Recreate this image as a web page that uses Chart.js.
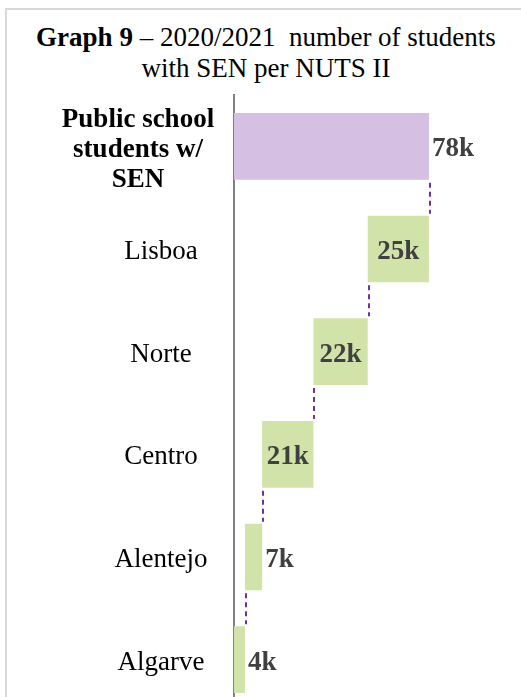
<!DOCTYPE html>
<html>
<head>
<meta charset="utf-8">
<script src="https://cdn.jsdelivr.net/npm/chart.js@4.4.0/dist/chart.umd.min.js"></script>
<style>
html, body { margin: 0; padding: 0; background: #fff; overflow: hidden; }
#wrap { position: relative; width: 521px; height: 720px; overflow: hidden; }
#frame { position: absolute; left: 5px; top: 8px; width: 600px; height: 800px;
  border-left: 2px solid #d9d9d9; border-top: 2px solid #d9d9d9; }
#title { position: absolute; left: 0; top: 22px; width: 532px; text-align: center;
  font: 27px "Liberation Serif", "Times New Roman", serif; line-height: 31px;
  color: #000; white-space: pre; }
canvas { position: absolute; left: 0; top: 0; }
</style>
</head>
<body>
<div id="wrap">
<div id="frame"></div>
<div id="title"><b>Graph 9</b> – 2020/2021  number of students
with SEN per NUTS II</div>
<canvas id="waterfall" width="521" height="720"></canvas>
</div>
<script>
// thousands of students with SEN, public schools, 2020/2021
var totalLabel = ["Public school", "students w/", "SEN"];
var regions = ["Lisboa", "Norte", "Centro", "Alentejo", "Algarve"];
var studentsK = [24.6, 21.8, 20.6, 6.9, 4.4];

var totalK = studentsK.reduce(function(a, b) { return a + b; }, 0);
var values = [totalK].concat(studentsK);

// floating bars: the total, then each region stepping down from it
var ranges = [[0, totalK]];
var level = totalK;
studentsK.forEach(function(v) {
  ranges.push([Math.max(0, level - v), level]);
  level -= v;
});

var serif = '"Liberation Serif", "Times New Roman", serif';

var waterfallExtras = {
  id: 'waterfallExtras',
  afterDatasetsDraw: function(chart) {
    var ctx = chart.ctx;
    var xs = chart.scales.x;
    var meta = chart.getDatasetMeta(0);
    ctx.save();

    // dashed connectors between steps
    ctx.strokeStyle = '#7030a0';
    ctx.lineWidth = 2;
    ctx.setLineDash([5, 4]);
    for (var i = 0; i < meta.data.length - 1; i++) {
      var a = meta.data[i].getProps(['y', 'height'], true);
      var b = meta.data[i + 1].getProps(['y', 'height'], true);
      var x = Math.round(xs.getPixelForValue(ranges[i + 1][1])) + 1;
      ctx.beginPath();
      ctx.moveTo(x, a.y + a.height / 2 + 3);
      ctx.lineTo(x, b.y - b.height / 2 - 2);
      ctx.stroke();
    }
    ctx.setLineDash([]);

    // value labels
    ctx.font = 'bold 27px ' + serif;
    ctx.fillStyle = '#404040';
    ctx.textBaseline = 'middle';
    meta.data.forEach(function(el, i) {
      var p = el.getProps(['y'], true);
      var txt = Math.round(values[i]) + 'k';
      var x0 = xs.getPixelForValue(ranges[i][0]);
      var x1 = xs.getPixelForValue(ranges[i][1]);
      var w = ctx.measureText(txt).width;
      if (i > 0 && w + 4 < x1 - x0) {
        ctx.textAlign = 'center';
        ctx.fillText(txt, (x0 + x1) / 2, p.y + 3);
      } else {
        ctx.textAlign = 'left';
        ctx.fillText(txt, x1 + 3, p.y + 3);
      }
    });

    // category labels
    ctx.fillStyle = '#000';
    ctx.textAlign = 'center';
    meta.data.forEach(function(el, i) {
      var p = el.getProps(['y'], true);
      if (i === 0) {
        ctx.font = 'bold 27px ' + serif;
        totalLabel.forEach(function(line, k) {
          ctx.fillText(line, 138, p.y + 4 + (k - 1) * 30);
        });
      } else {
        ctx.font = '27px ' + serif;
        ctx.fillText(regions[i - 1], 161, p.y + 3);
      }
    });
    ctx.restore();
  }
};

new Chart(document.getElementById('waterfall'), {
  type: 'bar',
  data: {
    labels: [totalLabel].concat(regions),
    datasets: [{
      label: 'Students (k)',
      data: ranges,
      backgroundColor: values.map(function(v, i) { return i === 0 ? '#d5c0e3' : '#d2e3a9'; }),
      borderWidth: 0,
      barPercentage: 0.65,
      categoryPercentage: 1
    }]
  },
  options: {
    indexAxis: 'y',
    responsive: false,
    animation: false,
    layout: { padding: { top: 95, bottom: 9, left: 0, right: 38 } },
    scales: {
      x: { display: false, min: 0, max: 100 },
      y: {
        grid: { display: false },
        border: { display: true, color: '#808080', width: 2 },
        ticks: { display: false },
        afterFit: function(s) { s.width = 234; }
      }
    },
    plugins: {
      legend: { display: false },
      tooltip: { enabled: false }
    }
  },
  plugins: [waterfallExtras]
});
</script>
</body>
</html>
